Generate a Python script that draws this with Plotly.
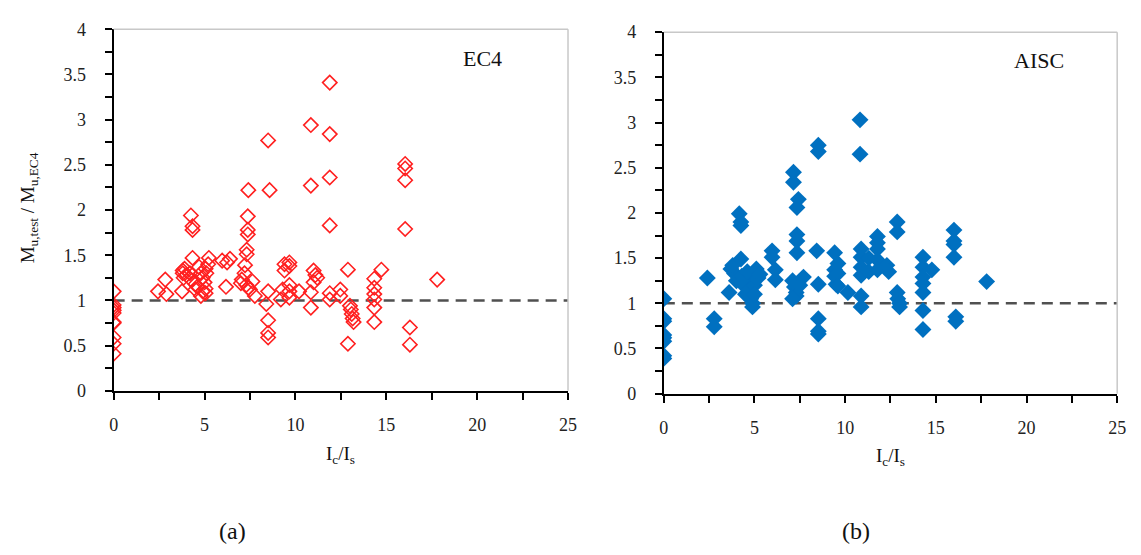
import plotly.graph_objects as go

# ---- EC4 data (panel a) ----
ec4_x = [0, 0, 0, 0, 0, 0, 0, 0, 0, 0,
         2.44, 2.84, 2.9, 3.76,
         3.8, 3.8, 3.9, 4.0, 3.85, 4.2, 4.3, 4.5, 4.6, 4.7, 4.8, 4.9, 5.0, 5.06, 5.06, 5.06, 4.9, 5.1, 5.2, 4.5, 4.8,
         4.25, 4.34, 4.34, 4.34, 5.24,
         5.97, 6.24, 6.4, 6.18,
         7.41, 7.38, 7.38, 7.38, 7.32, 7.32, 7.23, 7.05, 7.0, 7.41, 7.64, 7.77, 7.2, 7.5, 7.3,
         8.5, 8.58, 8.5, 8.4, 8.5, 8.5, 8.5,
         9.4, 9.4, 9.2, 9.3, 9.67, 9.67, 9.67, 9.67, 9.67,
         10.2, 10.85, 10.85, 10.85, 10.85, 11.0, 11.1, 11.2, 11.0,
         11.89, 11.89, 11.89, 11.89, 11.89, 11.89, 12.47, 12.47,
         12.89, 12.89, 13.0, 13.05, 13.1, 13.15, 13.2,
         14.34, 14.34, 14.34, 14.34, 14.34, 14.34, 14.73,
         16.04, 16.04, 16.04, 16.04, 16.3, 16.3, 17.8]
ec4_y = [1.10, 0.95, 0.92, 0.89, 0.86, 0.76, 0.75, 0.59, 0.52, 0.41,
         1.10, 1.23, 1.07, 1.10,
         1.33, 1.30, 1.35, 1.28, 1.25, 1.30, 1.22, 1.18, 1.15, 1.37, 1.30, 1.25, 1.20, 1.35, 1.13, 1.08, 1.10, 1.30, 1.40, 1.12, 1.05,
         1.94, 1.82, 1.78, 1.47, 1.47,
         1.44, 1.42, 1.46, 1.15,
         2.22, 1.93, 1.78, 1.73, 1.56, 1.51, 1.39, 1.23, 1.19, 1.14, 1.21, 1.05, 1.30, 1.12, 1.17,
         2.77, 2.22, 1.10, 0.96, 0.78, 0.64, 0.59,
         1.40, 1.33, 1.01, 1.12, 1.42, 1.38, 1.17, 1.10, 1.03,
         1.10, 2.94, 2.27, 1.09, 0.92, 1.33, 1.28, 1.25, 1.20,
         3.41, 2.84, 2.36, 1.83, 1.08, 1.01, 1.12, 1.05,
         1.34, 0.52, 0.94, 0.90, 0.85, 0.80, 0.76,
         1.24, 1.14, 1.07, 1.01, 0.92, 0.76, 1.34,
         2.51, 2.46, 2.33, 1.79, 0.70, 0.51, 1.23]

# ---- AISC data (panel b) ----
aisc_x = [0, 0, 0, 0, 0, 0, 0, 0,
          2.4, 2.78, 2.78,
          3.7, 3.6, 3.9, 3.8, 4.0, 4.16, 4.25, 4.25, 4.25,
          4.3, 4.4, 4.5, 4.6, 4.7, 4.8, 4.89, 4.9, 5.0, 5.0, 5.1, 5.2, 5.0, 4.6, 5.3,
          5.97, 5.97, 6.15, 6.15,
          7.15, 7.15, 7.42, 7.34, 7.34, 7.34, 7.34, 7.1, 7.2, 7.3, 7.3, 7.7, 7.5, 7.1,
          8.43, 8.52, 8.52, 8.52, 8.52, 8.52, 8.52,
          9.42, 9.42, 9.42, 9.5, 9.6, 9.6, 9.6, 10.15,
          10.82, 10.82, 10.88, 10.88, 10.88, 10.88, 10.88, 10.88, 11.3, 11.3,
          11.78, 11.78, 11.78, 11.78, 11.78, 12.3, 12.4,
          12.87, 12.87, 12.87, 12.9, 13.0, 13.0,
          14.29, 14.29, 14.29, 14.29, 14.29, 14.29, 14.29, 14.78,
          16.0, 16.0, 16.0, 16.0, 16.1, 16.1, 17.8]
aisc_y = [1.05, 0.83, 0.80, 0.65, 0.62, 0.58, 0.42, 0.39,
          1.28, 0.83, 0.74,
          1.38, 1.12, 1.33, 1.42, 1.25, 1.99, 1.90, 1.86, 1.49,
          1.30, 1.20, 1.10, 1.25, 1.15, 1.05, 0.96, 1.00, 1.20, 1.30, 1.38, 1.28, 1.10, 1.35, 1.32,
          1.58, 1.51, 1.37, 1.26,
          2.45, 2.34, 2.15, 2.06, 1.76, 1.69, 1.56, 1.25, 1.18, 1.12, 1.08, 1.29, 1.20, 1.05,
          1.58, 1.21, 0.83, 0.69, 0.66, 2.75, 2.68,
          1.56, 1.37, 1.30, 1.21, 1.44, 1.33, 1.19, 1.12,
          3.03, 2.65, 1.60, 1.51, 1.40, 1.31, 1.08, 0.96, 1.50, 1.35,
          1.74, 1.67, 1.60, 1.48, 1.37, 1.42, 1.35,
          1.90, 1.79, 1.12, 1.05, 1.00, 0.96,
          1.51, 1.40, 1.29, 1.22, 1.12, 0.92, 0.71, 1.37,
          1.81, 1.69, 1.65, 1.51, 0.85, 0.80, 1.24]

ref_x = [0, 25]
ref_y = [1, 1]

W, H = 1141, 555
SERIF = "Liberation Serif, Times New Roman, serif"

def px_x(p):
    return p / W

def px_y(p):
    return 1 - p / H

fig = go.Figure()

DASH = dict(color="#505050", width=2.5, dash="11px,7px")
fig.add_trace(go.Scatter(x=ref_x, y=ref_y, mode="lines", line=DASH,
                         xaxis="x", yaxis="y", showlegend=False, hoverinfo="skip"))
fig.add_trace(go.Scatter(x=ec4_x, y=ec4_y, mode="markers",
                         marker=dict(symbol="diamond-open", size=11, color="#FF2020",
                                     line=dict(width=1.6, color="#FF2020")),
                         xaxis="x", yaxis="y", showlegend=False))
fig.add_trace(go.Scatter(x=ref_x, y=ref_y, mode="lines", line=DASH,
                         xaxis="x2", yaxis="y2", showlegend=False, hoverinfo="skip"))
fig.add_trace(go.Scatter(x=aisc_x, y=aisc_y, mode="markers",
                         marker=dict(symbol="diamond", size=13, color="#0070C0",
                                     line=dict(width=0)),
                         xaxis="x2", yaxis="y2", showlegend=False))

def xax(domain, anchor):
    return dict(domain=domain, anchor=anchor, range=[0, 25], dtick=5, tick0=0,
                showgrid=False, zeroline=False, showline=True, linecolor="black", linewidth=2,
                ticks="outside", ticklen=7, tickwidth=1.5, tickcolor="black",
                ticklabelstandoff=10,
                minor=dict(ticks="outside", dtick=2.5, tick0=0, ticklen=7, tickwidth=1.5, tickcolor="black"),
                tickfont=dict(family=SERIF, size=18, color="#222222"), fixedrange=True)

def yax(domain, anchor):
    return dict(domain=domain, anchor=anchor, range=[0, 4], dtick=0.5, tick0=0,
                showgrid=False, zeroline=False, showline=True, linecolor="black", linewidth=2,
                ticks="outside", ticklen=7, tickwidth=1.5, tickcolor="black",
                ticklabelstandoff=15,
                minor=dict(ticks="outside", dtick=0.25, tick0=0, ticklen=7, tickwidth=1.5, tickcolor="black"),
                tickfont=dict(family=SERIF, size=18, color="#222222"), fixedrange=True)

L1, R1, T1, B1 = 110, 570, 20, 395
L2, R2, T2, B2 = 667, 1126, 23, 398

fig.update_layout(
    width=W, height=H, margin=dict(l=0, r=0, t=0, b=0),
    paper_bgcolor="white", plot_bgcolor="white",
    xaxis=xax([px_x(L1), px_x(R1)], "y"),
    yaxis=yax([px_y(B1), px_y(T1)], "x"),
    xaxis2=xax([px_x(L2), px_x(R2)], "y2"),
    yaxis2=yax([px_y(B2), px_y(T2)], "x2"),
)

# gray top/right frame lines
for (L, R, T, B) in [(L1, R1, T1, B1), (L2, R2, T2, B2)]:
    fig.add_shape(type="line", xref="paper", yref="paper",
                  x0=px_x(L), x1=px_x(R), y0=px_y(T), y1=px_y(T),
                  line=dict(color="#C8C8C8", width=1.5))
    fig.add_shape(type="line", xref="paper", yref="paper",
                  x0=px_x(R), x1=px_x(R), y0=px_y(T), y1=px_y(B),
                  line=dict(color="#C8C8C8", width=1.5))

def ann(text, x, y, size, angle=0):
    fig.add_annotation(text=text, xref="paper", yref="paper", x=px_x(x), y=px_y(y),
                       xanchor="center", yanchor="middle", showarrow=False, textangle=angle,
                       font=dict(family=SERIF, size=size, color="#111111"))

ann("EC4", 483, 50, 22)
ann("AISC", 1047, 52, 22)
ann("I<sub>c</sub>/I<sub>s</sub>", 340, 462, 19)
ann("I<sub>c</sub>/I<sub>s</sub>", 897, 464, 19)
ann("M<sub>u,test</sub> / M<sub>u,EC4</sub>", 24, 205, 19, angle=-90)
ann("(a)", 230, 540, 24)
ann("(b)", 862, 540, 24)

fig.write_html("out.html")
